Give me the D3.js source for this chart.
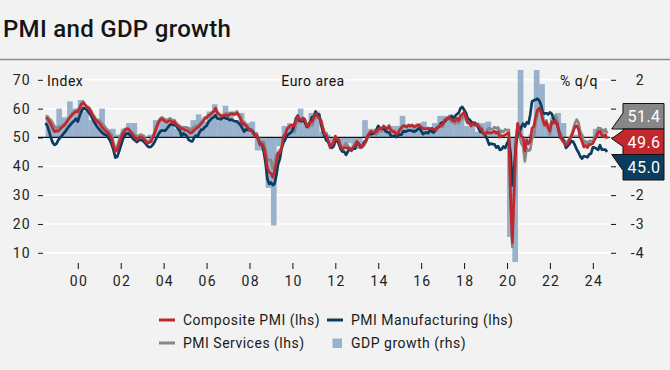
<!DOCTYPE html>
<html><head><meta charset="utf-8">
<script src="https://cdn.jsdelivr.net/npm/d3@7"></script>
<style>
html,body{margin:0;padding:0;background:#f2f2f2;}
svg{display:block;font-family:Roboto,"Noto Sans",sans-serif;}
</style>
</head><body>
<svg id="chart" width="670" height="370"></svg>
<script>
// ---------------- DATA ----------------
const startYear = 1998, startMonth = 6; // July 1998, monthly
const composite = [
56.8,56.5,55.5,54.5,53.0,52.0,
52.3,52.2,52.8,53.5,54.0,54.6,55.5,56.5,57.2,58.0,58.5,59.0,
58.8,60.0,61.5,62.0,61.3,60.5,60.2,59.4,58.0,57.0,56.0,55.5,
55.0,54.0,53.2,52.6,52.0,51.5,50.5,49.5,47.0,45.2,45.5,47.5,
49.5,51.0,52.0,52.8,53.0,52.5,51.5,50.8,50.0,49.2,49.8,50.2,
50.0,49.5,48.5,48.0,48.2,48.5,50.0,51.5,53.5,55.0,56.0,56.5,
56.0,55.5,55.3,55.8,55.8,55.0,55.5,54.5,54.0,53.5,53.0,53.0,
52.5,52.5,52.0,51.5,51.8,52.5,53.0,53.5,54.0,54.8,55.5,56.5,
56.8,57.5,57.8,58.5,59.0,60.2,58.5,58.0,57.3,57.5,57.7,57.8,
57.5,58.0,58.2,58.0,58.0,58.5,57.5,56.5,54.5,54.8,54.0,53.5,
52.5,52.6,51.5,50.5,50.8,49.0,47.5,47.8,46.5,43.5,39.5,38.0,
37.5,36.2,38.3,41.1,44.4,44.6,46.3,50.4,51.1,53.0,53.7,54.2,
54.2,54.1,55.9,57.3,56.4,56.0,56.7,56.2,54.1,53.8,55.4,55.5,
57.0,58.2,57.6,56.7,55.8,53.3,51.1,50.7,49.1,47.2,47.0,48.3,
50.4,49.3,49.1,46.7,46.0,46.4,46.5,46.3,46.1,45.7,46.5,47.2,
48.6,47.9,46.5,46.9,47.7,48.7,50.5,51.5,52.2,51.9,51.7,52.1,
52.9,53.3,53.1,54.0,53.5,52.8,53.8,52.5,52.0,52.1,51.1,51.4,
52.6,53.3,54.0,53.9,53.6,54.2,53.9,54.3,53.6,53.9,54.2,54.3,
53.6,53.0,53.1,53.0,53.1,53.1,53.2,52.9,52.6,53.3,53.9,54.4,
54.4,56.0,56.4,56.8,56.8,56.3,55.7,55.7,56.7,55.9,57.5,58.1,
58.8,57.1,55.2,55.1,54.1,54.9,54.3,54.5,53.9,53.1,52.7,51.1,
51.0,51.9,51.6,51.5,51.8,52.2,51.5,51.9,50.1,50.6,50.6,50.9,
51.3,51.6,29.7,13.6,31.9,48.5,54.9,51.9,50.4,50.0,45.3,49.1,
47.8,48.8,53.2,53.8,57.1,59.5,60.2,59.0,56.2,54.2,55.4,53.3,
52.3,55.5,54.9,55.8,54.8,52.0,49.9,48.9,48.1,47.3,47.8,49.3,
50.3,52.0,53.7,54.1,52.8,49.9,48.6,46.7,47.2,46.5,47.6,47.6,
47.9,49.2,50.3,51.7,52.2,50.9,50.2,51.0,49.6];

const manufacturing = [
55.0,54.0,52.0,49.8,48.2,47.4,
47.8,49.0,49.8,50.5,51.3,52.0,53.0,53.8,54.5,55.2,55.8,56.5,
55.5,57.5,59.0,60.2,60.0,59.5,58.8,58.0,56.8,55.5,54.5,53.5,
52.8,52.0,51.5,51.0,50.8,50.0,49.0,47.5,45.5,43.0,43.3,45.0,
47.0,49.0,50.5,51.2,51.5,51.0,50.2,49.5,49.0,48.4,49.0,49.2,
49.0,48.5,47.8,47.0,46.6,46.8,47.5,48.5,49.8,51.0,52.0,52.5,
52.4,52.4,53.2,54.0,54.7,54.4,54.4,54.0,53.1,52.4,50.4,51.4,
51.0,50.4,49.2,48.8,48.6,49.9,50.6,50.4,51.7,52.7,52.8,53.6,
54.0,55.3,56.0,56.7,57.0,57.7,56.6,56.5,56.3,56.8,57.0,56.5,
56.5,56.0,56.2,55.8,55.6,55.6,54.9,54.3,53.2,52.0,52.8,52.6,
52.8,52.3,52.0,50.7,50.6,49.2,47.4,47.6,45.0,41.1,35.6,33.9,
34.4,33.5,33.9,36.8,40.7,42.6,46.3,48.2,49.3,50.7,51.2,51.6,
52.4,54.2,56.6,57.6,55.8,55.6,56.7,55.1,53.7,54.6,55.3,57.1,
57.3,59.0,57.5,58.0,54.6,52.0,50.4,49.0,48.5,47.1,46.4,46.9,
48.8,49.0,47.7,45.9,45.1,45.1,44.0,45.1,46.1,45.4,46.2,46.1,
47.9,47.9,46.8,46.7,48.3,48.8,50.3,51.4,51.1,51.3,51.6,52.7,
54.0,53.2,53.0,53.4,52.2,51.8,51.8,50.7,50.3,50.6,50.1,50.6,
51.0,51.0,52.2,52.0,52.2,52.5,52.4,52.3,52.0,52.3,52.8,53.2,
52.3,51.2,51.6,51.7,51.5,52.8,52.0,51.7,52.6,53.5,53.7,54.9,
55.2,55.4,56.2,56.7,57.0,57.4,56.6,57.4,58.1,58.5,60.1,60.6,
59.6,58.6,56.6,56.2,55.5,54.9,55.1,54.6,53.2,52.0,51.8,51.4,
50.5,49.3,47.5,47.9,47.7,47.6,46.5,47.0,45.7,45.9,46.9,46.3,
47.9,49.2,44.5,33.4,39.4,47.4,51.8,51.7,53.7,54.8,53.8,55.2,
54.8,57.9,62.5,62.9,63.1,63.4,62.8,61.4,58.6,58.3,58.4,58.0,
58.7,58.2,56.5,55.5,54.6,52.1,49.8,49.6,48.4,46.4,47.1,47.8,
48.8,48.5,47.3,45.8,44.8,43.4,42.7,43.5,43.4,43.1,44.2,44.4,
46.6,46.5,46.1,45.7,47.3,45.8,45.8,45.8,45.0];

const services = [
57.5,57.3,56.5,56.0,55.0,53.8,
53.2,53.5,53.8,54.0,54.5,55.0,55.8,56.6,57.5,58.5,59.0,59.5,
59.5,60.5,61.8,62.5,61.5,60.8,60.5,59.7,58.5,57.5,56.5,56.0,
56.0,55.0,54.5,53.8,53.0,52.5,51.5,50.8,48.0,46.0,46.8,49.0,
50.8,52.0,52.8,53.0,53.2,52.5,52.0,51.5,50.8,50.5,50.5,51.0,
50.8,50.5,49.0,48.5,49.0,49.5,50.5,52.0,54.0,55.5,56.5,57.0,
56.5,56.2,56.0,56.5,56.5,55.8,56.0,55.0,54.5,54.0,53.5,53.5,
53.5,53.5,53.2,52.8,53.0,53.5,54.0,54.0,54.5,55.2,56.0,57.0,
57.0,57.8,58.0,58.6,59.0,60.0,58.8,58.2,57.5,57.8,58.0,58.5,
58.0,58.5,58.5,58.5,58.5,59.0,58.0,57.5,55.0,55.5,54.5,54.0,
52.5,53.0,52.0,51.0,51.5,49.5,48.5,48.5,48.5,45.8,42.0,42.1,
42.2,39.2,40.9,43.8,44.8,45.7,46.3,49.8,50.9,52.6,53.0,53.6,
52.5,51.8,54.1,55.6,56.2,55.5,55.8,56.2,54.1,53.3,55.4,54.2,
55.9,56.8,57.2,56.7,56.0,53.7,51.6,51.5,48.8,46.4,47.5,48.8,
50.5,48.8,49.2,46.9,46.7,47.1,47.9,47.2,46.1,46.0,46.7,47.8,
48.6,47.9,46.4,47.0,47.2,48.3,49.8,50.7,52.2,51.6,51.2,51.0,
51.6,52.6,52.2,53.1,53.2,52.8,54.2,53.1,52.4,52.3,51.1,51.6,
52.7,53.7,54.2,54.1,53.8,54.4,54.0,54.4,53.7,54.1,54.2,54.2,
53.6,53.3,53.1,53.1,53.3,52.8,52.9,52.8,52.2,52.8,53.8,53.7,
53.7,55.5,56.0,56.4,56.3,55.4,55.4,54.7,55.8,55.0,56.2,56.6,
58.0,56.2,54.9,54.7,53.8,55.2,54.2,54.4,54.7,53.7,53.4,51.2,
51.2,52.8,53.3,52.8,52.9,53.6,53.2,53.5,51.6,52.2,51.9,52.8,
52.5,52.6,26.4,12.0,30.5,48.3,54.7,50.5,48.0,46.9,41.7,46.4,
45.4,45.7,49.6,50.5,55.2,58.3,59.8,59.0,56.4,54.6,55.9,53.1,
51.1,55.5,55.6,57.7,56.1,53.0,51.2,49.8,48.8,48.6,48.5,49.8,
50.8,52.7,55.0,56.2,55.1,52.0,50.9,47.9,48.7,47.8,48.7,48.8,
48.4,50.2,51.5,53.3,53.2,52.8,51.9,52.9,51.4];

const gdpStartYear = 1998, gdpStartQuarter = 2; // 1998 Q3, quarterly % q/q
const gdpGrowth = [
0.6,0.4,
1.0,0.7,1.25,1.0,
1.3,0.9,0.6,0.6,
1.0,0.2,0.3,0.1,
0.3,0.5,0.5,0.1,
0.0,0.1,0.6,0.65,
0.6,0.5,0.3,0.4,
0.3,0.6,0.8,0.55,
0.9,1.15,0.7,1.1,
0.8,0.6,0.85,0.5,
0.55,-0.45,-0.45,-1.75,
-3.05,-0.3,0.4,0.5,
0.4,1.0,0.5,0.85,
0.9,0.2,0.1,-0.3,
-0.1,-0.3,-0.2,-0.4,
-0.4,0.6,0.3,0.3,
0.3,0.2,0.4,0.4,
0.75,0.4,0.4,0.5,
0.55,0.3,0.5,0.75,
0.75,0.8,0.7,0.8,
0.4,0.4,0.2,0.5,
0.55,0.2,0.3,0.0,
-3.45,-11.4,12.4,-0.3,
0.1,2.4,1.85,0.5,
0.7,0.85,0.5,0.0,
0.1,0.1,0.0,0.0,
0.3,0.2];

const xTickYears = [2000,2002,2004,2006,2008,2010,2012,2014,2016,2018,2020,2022,2024];
const xTickLabels = ["00","02","04","06","08","10","12","14","16","18","20","22","24"];
const lhsTicks = [10,20,30,40,50,60,70];
const rhsTicks = [2,1,0,-1,-2,-3,-4];
const rhsTickLabels = ["2","1","0","-1","-2","-3","-4"];
const seriesNames = ["Composite PMI (lhs)","PMI Manufacturing (lhs)","PMI Services (lhs)","GDP growth (rhs)"];
const titleText = "PMI and GDP growth";

// ---------------- CHART ----------------
const C = {red:"#c1272d", navy:"#0b3c5d", gray:"#878787", bar:"#98b1cc", bg:"#f2f2f2"};
const svg = d3.select("#chart");
svg.append("rect").attr("width",670).attr("height",370).attr("fill",C.bg);

const P = {left:38, right:610, top:70, bottom:262};
const x = d3.scaleLinear().domain([1998.145, 2024.80]).range([P.left, P.right]);
const y = d3.scaleLinear().domain([6.8, 73.4]).range([P.bottom, P.top]);
const y2 = d3.scaleLinear().domain([-4.32, 2.34]).range([P.bottom, P.top]);

// flag geometry (used to hide covered rhs labels)
const fTop = 103.5, fH = 25.5, fX = 623, fW = 41, tipX = 611.7;
const fBottom = fTop + 3*fH;

// title + separator
svg.append("text").attr("x",3).attr("y",37).attr("font-size",24).attr("font-weight",500)
  .attr("letter-spacing",0.3).attr("fill","#151515").text(titleText);
svg.append("line").attr("x1",0).attr("x2",670).attr("y1",59.5).attr("y2",59.5)
  .attr("stroke","#8c8c8c").attr("stroke-width",1.3);

svg.append("clipPath").attr("id","clip").append("rect")
  .attr("x",P.left).attr("y",P.top).attr("width",P.right-P.left).attr("height",P.bottom-P.top);

// gridlines
svg.append("g").selectAll("line").data(lhsTicks).join("line")
  .attr("x1",P.left).attr("x2",P.right).attr("y1",d=>y(d)).attr("y2",d=>y(d))
  .attr("stroke","#ffffff").attr("stroke-width",1.5);

// bars
const gdpData = gdpGrowth.map((v,i)=>({t: gdpStartYear + (gdpStartQuarter+i)/4, v}));
svg.append("g").attr("clip-path","url(#clip)").selectAll("rect").data(gdpData).join("rect")
  .attr("x",d=>x(d.t)).attr("width",d=>x(d.t+0.25)-x(d.t)+0.3)
  .attr("y",d=>Math.min(y2(d.v),y2(0))).attr("height",d=>Math.abs(y2(d.v)-y2(0)))
  .attr("fill",C.bar);

// zero line
svg.append("line").attr("x1",P.left).attr("x2",P.right).attr("y1",y(50)).attr("y2",y(50))
  .attr("stroke","#111").attr("stroke-width",1.2);

// lines
function toPts(arr){ return arr.map((v,i)=>({t: startYear + (startMonth+i)/12, v})); }
const line = d3.line().x(d=>x(d.t)).y(d=>y(d.v)).curve(d3.curveLinear);
const series = [
  {name:seriesNames[2], data:services, color:C.gray},
  {name:seriesNames[1], data:manufacturing, color:C.navy},
  {name:seriesNames[0], data:composite, color:C.red}
];
const lg = svg.append("g").attr("clip-path","url(#clip)");
series.forEach(s=>{
  lg.append("path").attr("d",line(toPts(s.data))).attr("fill","none")
    .attr("stroke",s.color).attr("stroke-width",2.7).attr("stroke-linejoin","round");
});

// left axis
const fontAxis = 14, axisLS = 1.3;
const la = svg.append("g").attr("transform",`translate(43,0)`)
  .call(d3.axisLeft(y).tickValues(lhsTicks).tickSize(5).tickPadding(7));
la.select(".domain").remove();
la.selectAll("text").attr("font-size",fontAxis).attr("font-family","Roboto")
  .attr("letter-spacing",axisLS).attr("fill","#222");
la.selectAll("line").attr("stroke","#111");

// right axis (labels hidden where the value flags cover them)
const ra = svg.append("g").attr("transform",`translate(611,0)`)
  .call(d3.axisRight(y2).tickValues(rhsTicks).tickSize(5)
    .tickFormat((d,i)=> (y2(d) > fTop-4 && y2(d) < fBottom+4) ? "" : rhsTickLabels[i]));
ra.select(".domain").remove();
ra.selectAll("text").attr("x",34).attr("text-anchor","end").attr("font-size",fontAxis)
  .attr("font-family","Roboto").attr("letter-spacing",axisLS).attr("fill","#222");
ra.selectAll("line").attr("stroke","#111");

// x axis
const xa = svg.append("g").attr("transform",`translate(0,263)`)
  .call(d3.axisBottom(x).tickValues(xTickYears).tickSize(6).tickPadding(7)
    .tickFormat((d,i)=>xTickLabels[i]));
xa.select(".domain").remove();
xa.selectAll("text").attr("font-size",fontAxis).attr("font-family","Roboto")
  .attr("letter-spacing",axisLS).attr("dx",axisLS/2).attr("fill","#222");
xa.selectAll("line").attr("stroke","#111");

// in-plot labels with background
function bgText(tx, ty, str, anchor){
  const g = svg.append("g");
  const r = g.append("rect").attr("fill",C.bg);
  const t = g.append("text").attr("x",tx).attr("y",ty).attr("font-size",14)
    .attr("letter-spacing",0.5).attr("text-anchor",anchor).attr("fill","#111").text(str);
  const b = t.node().getBBox();
  r.attr("x",b.x-1).attr("y",b.y).attr("width",b.width+2).attr("height",b.height);
}
bgText(47, 86, "Index", "start");
bgText(313, 86, "Euro area", "middle");
bgText(598, 86, "% q/q", "end");

// flags for latest values
const latest = [
  {v: services[services.length-1], color:C.gray},
  {v: composite[composite.length-1], color:C.red},
  {v: manufacturing[manufacturing.length-1], color:C.navy}
].sort((a,b)=>b.v-a.v);
latest.forEach((f,i)=>{
  const top = fTop + i*fH, bot = top + fH;
  let tipY = Math.max(top, Math.min(bot, y(f.v)));
  let a1 = tipY - 8, a2 = tipY + 8;
  if (a1 < top){ a1 = top; a2 = top + 16; }
  if (a2 > bot){ a2 = bot; a1 = bot - 16; }
  const p = d3.path();
  p.moveTo(fX, top); p.lineTo(fX+fW, top); p.lineTo(fX+fW, bot); p.lineTo(fX, bot);
  p.lineTo(fX, a2); p.lineTo(tipX, tipY); p.lineTo(fX, a1); p.closePath();
  svg.append("path").attr("d",p.toString()).attr("fill",f.color).attr("stroke","#111").attr("stroke-width",1);
  svg.append("text").attr("x",fX+fW/2+0.5).attr("y",(top+bot)/2).attr("dy","0.36em")
    .attr("text-anchor","middle").attr("font-size",16).attr("letter-spacing",0.5)
    .attr("fill","#fff").text(f.v.toFixed(1));
});

// legend
const legend = [
  {name:seriesNames[0], color:C.red, type:"line", lx:159, ly:320},
  {name:seriesNames[1], color:C.navy, type:"line", lx:327, ly:320},
  {name:seriesNames[2], color:C.gray, type:"line", lx:159, ly:343},
  {name:seriesNames[3], color:C.bar, type:"box", lx:327, ly:343}
];
legend.forEach(l=>{
  if (l.type==="line"){
    svg.append("line").attr("x1",l.lx).attr("x2",l.lx+16).attr("y1",l.ly).attr("y2",l.ly)
      .attr("stroke",l.color).attr("stroke-width",3);
  } else {
    svg.append("rect").attr("x",l.lx+5.5).attr("y",l.ly-4.5).attr("width",9.5).attr("height",9.5).attr("fill",l.color);
  }
  svg.append("text").attr("x",l.lx+24).attr("y",l.ly).attr("dy","0.35em").attr("font-size",14)
    .attr("letter-spacing",0.5).attr("fill","#1a1a1a").text(l.name);
});
</script>
</body></html>
